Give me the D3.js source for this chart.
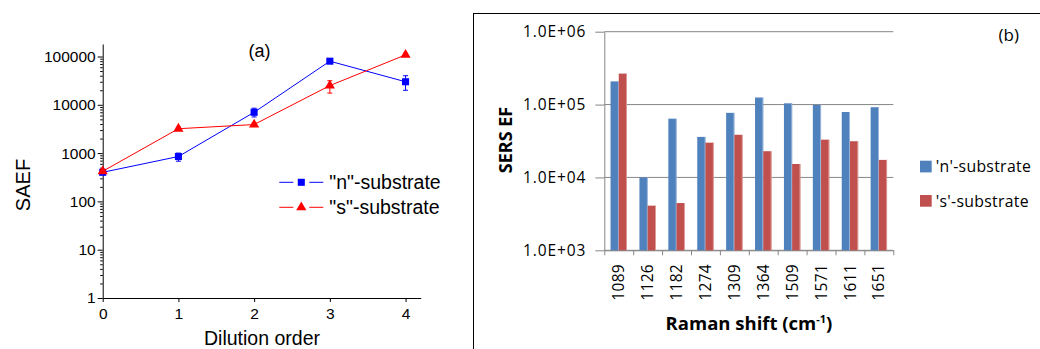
<!DOCTYPE html>
<html>
<head>
<meta charset="utf-8">
<script src="https://cdn.jsdelivr.net/npm/d3@7/dist/d3.min.js"></script>
<style>
body { margin: 0; background: #fff; }
svg { display: block; }
</style>
</head>
<body>
<svg id="chart" width="1040" height="349"></svg>
<script>
// ---- panel (a): SAEF vs dilution order ----
var dilution = [0, 1, 2, 3, 4]
var nSaef = [400, 850, 7000, 80000, 30000]
var nLow = [365, 680, 5600, 75000, 20000]
var nHigh = [440, 1000, 8500, 86000, 40000]
var sSaef = [420, 3200, 3900, 25000, 108000]
var sLow = [385, 2950, 3650, 17500, 100000]
var sHigh = [465, 3450, 4200, 31500, 117000]
var saefTicks = [1, 10, 100, 1000, 10000, 100000]

// ---- panel (b): SERS EF per Raman band ----
var ramanShift = ['1089', '1126', '1182', '1274', '1309', '1364', '1509', '1571', '1611', '1651']
var nEF = [208000, 10000, 64000, 36000, 77000, 125000, 104000, 99000, 79000, 92000]
var sEF = [266000, 4100, 4450, 30000, 38500, 22900, 15300, 33000, 31400, 17400]
var efTicks = [1e3, 1e4, 1e5, 1e6]

var svg = d3.select('#chart')

// ================= panel (a) =================
var A = svg.append('g').attr('class', 'panelA')
var ax = d3.scaleLinear().domain([0, 4.2]).range([102.7, 420.7])
var ay = d3.scaleLog().domain([1, 181500]).range([298, 44])

var minor = []
saefTicks.forEach(function (d) {
    for (var k = 2; k <= 9; k++) {
        if (d * k < ay.domain()[1]) minor.push(d * k)
    }
})

A.append('g')
    .attr('transform', 'translate(102.7,0)')
    .call(d3.axisLeft(ay).tickValues(minor).tickSize(2.5).tickSizeOuter(0).tickFormat(''))
    .call(g => g.select('.domain').remove())

A.append('g')
    .attr('class', 'axis')
    .attr('transform', 'translate(102.7,0)')
    .call(d3.axisLeft(ay).tickValues(saefTicks).tickSize(5).tickSizeOuter(0).tickPadding(2).tickFormat(d3.format('d')))

A.append('g')
    .attr('class', 'axis')
    .attr('transform', 'translate(0,298)')
    .call(d3.axisBottom(ax).tickValues(dilution).tickSize(4).tickSizeOuter(0).tickPadding(6).tickFormat(d3.format('d')))

A.selectAll('.axis text')
    .attr('font-family', 'Liberation Sans, Arial, sans-serif')
    .attr('font-size', 15.5)
    .attr('fill', '#000')

var series = [
    { name: '"n"-substrate', vals: nSaef, lo: nLow, hi: nHigh, color: '#0000ff', mark: d3.symbolSquare },
    { name: '"s"-substrate', vals: sSaef, lo: sLow, hi: sHigh, color: '#ff0000', mark: d3.symbolTriangle }
]

var line = d3.line()
    .x((d, i) => ax(dilution[i]))
    .y(d => ay(d))

series.forEach(function (s) {
    A.append('path')
        .attr('d', line(s.vals))
        .attr('fill', 'none')
        .attr('stroke', s.color)
        .attr('stroke-width', 1)

    var eb = A.append('g').attr('stroke', s.color).attr('stroke-width', 1)
    dilution.forEach(function (x, i) {
        var cx = ax(x)
        eb.append('line').attr('x1', cx).attr('x2', cx).attr('y1', ay(s.lo[i])).attr('y2', ay(s.hi[i]))
        eb.append('line').attr('x1', cx - 2.5).attr('x2', cx + 2.5).attr('y1', ay(s.lo[i])).attr('y2', ay(s.lo[i]))
        eb.append('line').attr('x1', cx - 2.5).attr('x2', cx + 2.5).attr('y1', ay(s.hi[i])).attr('y2', ay(s.hi[i]))
    })

    A.selectAll(null)
        .data(s.vals)
        .enter()
        .append('path')
        .attr('d', d3.symbol().type(s.mark).size(s.mark === d3.symbolSquare ? 50 : 45))
        .attr('transform', (d, i) => 'translate(' + ax(dilution[i]) + ',' + ay(d) + ')')
        .attr('fill', s.color)
})

// legend (a)
series.forEach(function (s, i) {
    var ly = 182.3 + i * 25
    A.append('line').attr('x1', 279.3).attr('x2', 293.3).attr('y1', ly).attr('y2', ly).attr('stroke', s.color)
    A.append('line').attr('x1', 309.3).attr('x2', 323.3).attr('y1', ly).attr('y2', ly).attr('stroke', s.color)
    A.append('path')
        .attr('d', d3.symbol().type(s.mark).size(s.mark === d3.symbolSquare ? 50 : 45))
        .attr('transform', 'translate(301.3,' + ly + ')')
        .attr('fill', s.color)
    A.append('text')
        .attr('x', 329.3)
        .attr('y', ly + 7)
        .attr('font-family', 'Liberation Sans, Arial, sans-serif')
        .attr('font-size', 19.5)
        .text(s.name)
})

A.append('text')
    .attr('x', 259.5).attr('y', 57)
    .attr('text-anchor', 'middle')
    .attr('font-family', 'Liberation Sans, Arial, sans-serif')
    .attr('font-size', 18)
    .text('(a)')

A.append('text')
    .attr('transform', 'translate(30,185) rotate(-90)')
    .attr('text-anchor', 'middle')
    .attr('font-family', 'Liberation Sans, Arial, sans-serif')
    .attr('font-size', 20)
    .text('SAEF')

A.append('text')
    .attr('x', 262).attr('y', 345)
    .attr('text-anchor', 'middle')
    .attr('font-family', 'Liberation Sans, Arial, sans-serif')
    .attr('font-size', 19.5)
    .text('Dilution order')

// ================= panel (b) =================
var B = svg.append('g').attr('class', 'panelB')
var font = 'Open Sans, sans-serif'
var grey = '#868686'

B.append('rect')
    .attr('x', 473.5).attr('y', 13.5)
    .attr('width', 600).attr('height', 400)
    .attr('fill', 'none')
    .attr('stroke', '#000')
    .attr('stroke-width', 1)

var bx = d3.scaleBand().domain(ramanShift).range([604.3, 893.3])
var bsub = d3.scaleBand().domain(['n', 's']).range([0, bx.bandwidth()]).paddingOuter(0.76)
var by = d3.scaleLog().domain([1e3, 1e6]).range([250.3, 31.7])

B.append('g')
    .selectAll('line')
    .data(efTicks)
    .enter()
    .append('line')
    .attr('x1', 604.3).attr('x2', 893.3)
    .attr('y1', d => by(d)).attr('y2', d => by(d))
    .attr('stroke', grey)

var yAxisB = B.append('g')
    .attr('transform', 'translate(604.3,0)')
    .call(d3.axisLeft(by).tickValues(efTicks).tickSize(9).tickSizeOuter(0).tickPadding(9)
        .tickFormat(d => '1.0E+' + String(Math.round(Math.log10(d))).padStart(2, '0')))
yAxisB.selectAll('line, path').attr('stroke', grey)
yAxisB.selectAll('text')
    .attr('font-family', font).attr('font-size', 15.5).attr('letter-spacing', 0.9).attr('fill', '#000')

var bounds = d3.scaleLinear().domain([0, ramanShift.length]).range([604.3, 893.3])
var xAxisB = B.append('g')
    .attr('transform', 'translate(0,250.3)')
    .call(d3.axisBottom(bounds).tickValues(d3.range(ramanShift.length + 1)).tickSize(5).tickSizeOuter(0).tickFormat(''))
xAxisB.selectAll('line, path').attr('stroke', grey)

B.append('g')
    .selectAll('text')
    .data(ramanShift)
    .enter()
    .append('text')
    .attr('transform', d => 'translate(' + (bx(d) + bx.bandwidth() / 2) + ',264) rotate(-90)')
    .attr('dy', '0.36em')
    .attr('text-anchor', 'end')
    .attr('font-family', font)
    .attr('font-size', 15.5)
    .attr('letter-spacing', 0.3)
    .text(d => d)

var barSeries = [
    { key: 'n', vals: nEF, color: '#4f81bd', edge: '#a9c1e0', label: "'n'-substrate" },
    { key: 's', vals: sEF, color: '#c0504d', edge: '#e2a9a7', label: "'s'-substrate" }
]

barSeries.forEach(function (s) {
    var g = B.append('g')
    g.selectAll('rect.bar')
        .data(s.vals)
        .enter()
        .append('rect')
        .attr('class', 'bar')
        .attr('x', (d, i) => bx(ramanShift[i]) + bsub(s.key))
        .attr('y', d => by(d))
        .attr('width', bsub.bandwidth())
        .attr('height', d => by(1e3) - by(d))
        .attr('fill', s.color)
    // pale right-hand edge as in the spreadsheet rendering
    g.selectAll('rect.edge')
        .data(s.vals)
        .enter()
        .append('rect')
        .attr('class', 'edge')
        .attr('x', (d, i) => bx(ramanShift[i]) + bsub(s.key) + bsub.bandwidth() - 0.8)
        .attr('y', d => by(d))
        .attr('width', 0.8)
        .attr('height', d => by(1e3) - by(d))
        .attr('fill', s.edge)
})

barSeries.forEach(function (s, i) {
    var top = 160.7 + i * 34.3
    B.append('rect')
        .attr('x', 920).attr('y', top)
        .attr('width', 11.7).attr('height', 11.7)
        .attr('fill', s.color)
    B.append('text')
        .attr('x', 935.7).attr('y', top + 11.5)
        .attr('font-family', font)
        .attr('font-size', 15.8)
        .attr('letter-spacing', 0.3)
        .text(s.label)
})

B.append('text')
    .attr('x', 1008.7).attr('y', 41)
    .attr('text-anchor', 'middle')
    .attr('font-family', font)
    .attr('font-size', 17)
    .text('(b)')

B.append('text')
    .attr('transform', 'translate(506,140) rotate(-90)')
    .attr('dy', '0.36em')
    .attr('text-anchor', 'middle')
    .attr('font-family', font)
    .attr('font-weight', 'bold')
    .attr('font-size', 18)
    .text('SERS EF')

var xt = B.append('text')
    .attr('x', 749).attr('y', 330)
    .attr('text-anchor', 'middle')
    .attr('font-family', font)
    .attr('font-weight', 'bold')
    .attr('font-size', 18.5)
xt.append('tspan').text('Raman shift (cm')
xt.append('tspan').attr('font-size', 11).attr('dy', -7).text('-1')
xt.append('tspan').attr('dy', 7).text(')')
</script>
</body>
</html>
